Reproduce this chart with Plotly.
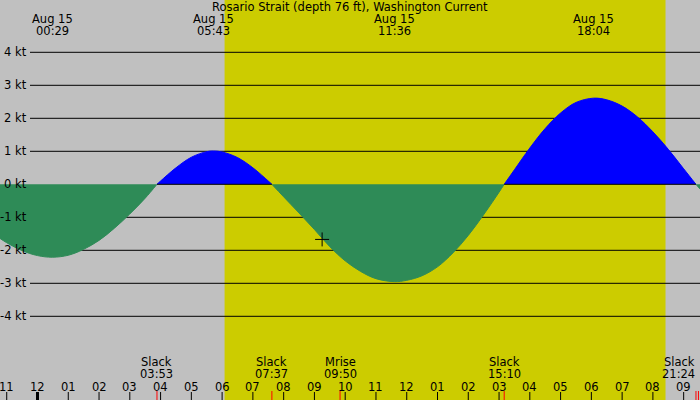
# Corrente di marea - Rosario Strait, 15 agosto
import plotly.graph_objects as go

# ------------------------------------------------------------
# DATI
# ore dalla mezzanotte del 15 agosto (negativo = sera del 14)
# ------------------------------------------------------------
ore = [-1.22, -1.0, -0.5, 0.0, 0.483, 1.0, 1.5, 2.0, 2.5, 3.0, 3.5, 3.883,
       4.0, 4.5, 5.0, 5.5, 5.717, 6.0, 6.5, 7.0, 7.5, 7.617,
       8.0, 8.5, 9.0, 9.5, 10.0, 10.5, 11.0, 11.6, 12.0, 12.5, 13.0, 13.5,
       14.0, 14.5, 15.0, 15.167,
       15.5, 16.0, 16.5, 17.0, 17.5, 18.067, 18.5, 19.0, 19.5, 20.0, 20.5,
       21.0, 21.4, 21.53]
nodi = [-1.64, -1.77, -2.01, -2.16, -2.21, -2.15, -1.97, -1.70, -1.33, -0.90, -0.42, 0.0,
        0.10, 0.50, 0.82, 0.99, 1.01, 0.98, 0.81, 0.50, 0.10, 0.0,
        -0.38, -0.87, -1.37, -1.89, -2.32, -2.64, -2.86, -2.95, -2.91, -2.77, -2.50, -2.08,
        -1.55, -0.92, -0.24, 0.0,
        0.44, 1.10, 1.69, 2.16, 2.48, 2.61, 2.56, 2.37, 2.04, 1.59, 1.06,
        0.47, 0.0, -0.14]

# massimi / minimi (etichette in alto)
ore_estremi = [0.483, 5.717, 11.6, 18.067]
data_estremi = ["Aug 15", "Aug 15", "Aug 15", "Aug 15"]
orario_estremi = ["00:29", "05:43", "11:36", "18:04"]

# eventi (etichette in basso, tacche rosse)
ore_eventi = [3.883, 7.617, 9.833, 15.167, 21.4]
nome_eventi = ["Slack", "Slack", "Mrise", "Slack", "Slack"]
orario_eventi = ["03:53", "07:37", "09:50", "15:10", "21:24"]
ora_mset = 21.48  # tacca rossa senza etichetta

# tacche delle ore
ore_tacche = list(range(-1, 22))
etichette_tacche = ["11", "12", "01", "02", "03", "04", "05", "06", "07", "08",
                    "09", "10", "11", "12", "01", "02", "03", "04", "05", "06",
                    "07", "08", "09"]

livelli = [4, 3, 2, 1, 0, -1, -2, -3, -4]
etichette_livelli = ["4 kt", "3 kt", "2 kt", "1 kt", "0 kt", "-1 kt", "-2 kt", "-3 kt", "-4 kt"]

alba = 6.08
tramonto = 20.41

ora_attuale = 9.25
nodi_attuali = -1.67

TITOLO = "Rosario Strait (depth 76 ft), Washington Current"

# ------------------------------------------------------------
# COLORI / STILE
# ------------------------------------------------------------
GRIGIO = "#c0c0c0"
GIALLO = "#cccc00"
FLUSSO = "#0000ff"
RIFLUSSO = "#2e8b57"
FONT = dict(family="DejaVu Sans, sans-serif", size=11.5, color="black")

W, H = 700, 400
PX_ORA = 30.77
X_MEZZANOTTE = 37.5
Y_ZERO = 184.3
PX_NODO = 33.0

x_range = [-X_MEZZANOTTE / PX_ORA, (W - X_MEZZANOTTE) / PX_ORA]
y_range = [-(H - Y_ZERO) / PX_NODO, Y_ZERO / PX_NODO]


def py(pixel):
    # pixel dall'alto -> coordinata paper
    return 1 - pixel / H


# ------------------------------------------------------------
# SEGMENTI TRA GLI ISTANTI DI STANCA
# ------------------------------------------------------------
segmenti = []
sx, sy = [ore[0]], [nodi[0]]
for x, y in zip(ore[1:], nodi[1:]):
    sx.append(x)
    sy.append(y)
    if y == 0:
        segmenti.append((sx, sy))
        sx, sy = [x], [y]
segmenti.append((sx, sy))

fig = go.Figure()

for sx, sy in segmenti:
    colore = FLUSSO if sum(sy) > 0 else RIFLUSSO
    fig.add_trace(go.Scatter(
        x=sx, y=sy, mode="lines",
        line=dict(shape="spline", color=colore, width=1),
        fill="tozeroy", fillcolor=colore,
        hoverinfo="skip", showlegend=False
    ))

# croce dell'istante attuale
fig.add_trace(go.Scatter(
    x=[ora_attuale], y=[nodi_attuali], mode="markers",
    marker=dict(symbol="cross-thin", size=10, line=dict(color="black", width=1)),
    hoverinfo="skip", showlegend=False
))

# ------------------------------------------------------------
# SFONDO, LINEE, TACCHE
# ------------------------------------------------------------
shapes = [dict(type="rect", xref="x", yref="paper", x0=alba, x1=tramonto, y0=0, y1=1,
               fillcolor=GIALLO, line=dict(width=0), layer="below")]

for liv in livelli:
    if liv == 0:
        continue
    shapes.append(dict(type="line", xref="paper", yref="y", x0=30 / W, x1=1, y0=liv, y1=liv,
                       line=dict(color="black", width=1), layer="below"))

# linea dello zero visibile solo sotto il flusso
for sx, sy in segmenti:
    if sum(sy) > 0:
        shapes.append(dict(type="line", xref="x", yref="y", x0=sx[0], x1=sx[-1], y0=0, y1=0,
                           line=dict(color="black", width=1), layer="above"))

for h in ore_tacche:
    shapes.append(dict(type="line", xref="x", yref="paper", x0=h, x1=h, y0=0, y1=8 / H,
                       line=dict(color="black", width=3 if h == 0 else 1)))

for h in ore_eventi + [ora_mset]:
    shapes.append(dict(type="line", xref="x", yref="paper", x0=h, x1=h, y0=0, y1=9 / H,
                       line=dict(color="red", width=1)))

# ------------------------------------------------------------
# TESTI
# ------------------------------------------------------------
annotations = [dict(text=TITOLO, xref="paper", yref="paper", x=0.5, y=py(7),
                    showarrow=False, font=FONT, xanchor="center", yanchor="middle")]

for liv, testo in zip(livelli, etichette_livelli):
    annotations.append(dict(text=testo, xref="paper", yref="y", x=28.5 / W, y=liv,
                            showarrow=False, font=FONT, xanchor="right", yanchor="middle"))

for h, d, o in zip(ore_estremi, data_estremi, orario_estremi):
    annotations.append(dict(text=d, xref="x", yref="paper", x=h, y=py(19.5),
                            showarrow=False, font=FONT, xanchor="center", yanchor="middle"))
    annotations.append(dict(text=o, xref="x", yref="paper", x=h, y=py(31.5),
                            showarrow=False, font=FONT, xanchor="center", yanchor="middle"))

for h, n, o in zip(ore_eventi, nome_eventi, orario_eventi):
    x_pix = X_MEZZANOTTE + h * PX_ORA
    if x_pix + 17 > W:
        pos = dict(xref="paper", x=697 / W, xanchor="right")
    else:
        pos = dict(xref="x", x=h, xanchor="center")
    annotations.append(dict(text=n, yref="paper", y=py(361.5), showarrow=False,
                            font=FONT, yanchor="middle", **pos))
    annotations.append(dict(text=o, yref="paper", y=py(373.5), showarrow=False,
                            font=FONT, yanchor="middle", **pos))

for h, t in zip(ore_tacche, etichette_tacche):
    annotations.append(dict(text=t, xref="x", yref="paper", x=h, y=py(386.5),
                            showarrow=False, font=FONT, xanchor="center", yanchor="middle"))

fig.update_layout(
    width=W, height=H,
    margin=dict(l=0, r=0, t=0, b=0),
    paper_bgcolor=GRIGIO, plot_bgcolor=GRIGIO,
    xaxis=dict(range=x_range, visible=False, fixedrange=True),
    yaxis=dict(range=y_range, visible=False, fixedrange=True),
    shapes=shapes, annotations=annotations,
    showlegend=False
)

# la pagina ha un margine di 8px di default: lo togliamo
fig.write_html("out.html", config={"displayModeBar": False},
               post_script="document.body.style.margin='0';")
